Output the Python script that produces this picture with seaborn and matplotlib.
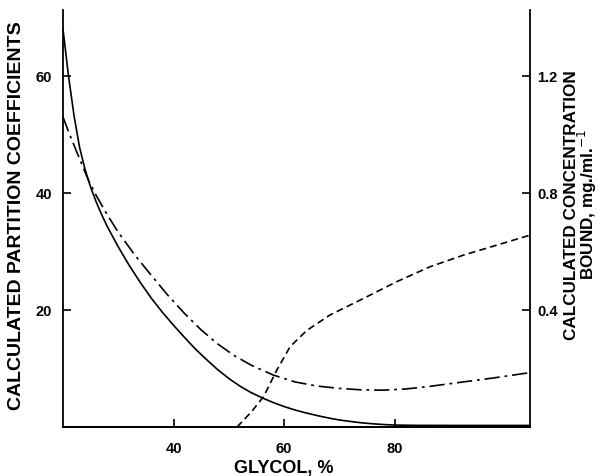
import matplotlib
matplotlib.use("Agg")
import matplotlib.pyplot as plt
import seaborn as sns
import pandas as pd

# ---- data ----
glycol_solid = [20, 21, 22, 23, 24, 25, 26, 27, 28, 30, 32, 34, 36, 38, 40, 42, 44, 46, 48, 50,
                52, 54, 56, 58, 60, 62, 64, 66, 68, 70, 72, 74, 76, 78, 80, 84, 90, 104.5]
partition_solid = [68, 60, 53.2, 47.8, 44.0, 41.0, 38.5, 36.3, 34.3, 30.8, 27.6, 24.7, 22.0, 19.6,
                   17.4, 15.3, 13.3, 11.5, 9.8, 8.3, 7.0, 5.9, 5.0, 4.2, 3.5, 2.9, 2.4, 1.95, 1.55,
                   1.2, 0.95, 0.72, 0.55, 0.42, 0.33, 0.28, 0.27, 0.27]

glycol_dashdot = [20, 21, 22.5, 24.6, 26, 28, 30, 33, 36, 39, 42, 45, 48, 51, 54, 58, 62, 66, 70,
                  74, 78, 82, 86, 90, 94, 98, 104.5]
partition_dashdot = [53, 50.5, 47, 42.2, 39.6, 36.3, 33.3, 29.4, 25.9, 22.5, 19.4, 16.6, 14.2, 12.2,
                     10.6, 8.9, 7.7, 7.0, 6.6, 6.35, 6.3, 6.5, 6.9, 7.4, 7.9, 8.4, 9.3]

glycol_bound = [51.5, 54, 56.3, 58.7, 61.1, 64.1, 68.3, 74.4, 80.4, 86.4, 92.5, 98.5, 104.5]
conc_bound = [0, 0.05, 0.104, 0.195, 0.275, 0.33, 0.383, 0.44, 0.497, 0.548, 0.588, 0.622, 0.656]

x_ticks = [40, 60, 80]
left_ticks = [20, 40, 60]
right_ticks = [0.4, 0.8, 1.2]

sns.set_style("ticks")
plt.rcParams["font.family"] = ["Liberation Sans", "DejaVu Sans"]
plt.rcParams["lines.scale_dashes"] = False
for k in ("text.color", "axes.labelcolor", "xtick.color", "ytick.color", "axes.edgecolor"):
    plt.rcParams[k] = "black"

W, H = 598, 476
fig = plt.figure(figsize=(W / 100, H / 100), dpi=100)
L, R, B, T = 63, 530, 427, 10
ax = fig.add_axes([L / W, 1 - B / H, (R - L) / W, (B - T) / H])

df1 = pd.DataFrame({"x": glycol_solid, "y": partition_solid})
df2 = pd.DataFrame({"x": glycol_dashdot, "y": partition_dashdot})
df3 = pd.DataFrame({"x": glycol_bound, "y": conc_bound})

sns.lineplot(data=df1, x="x", y="y", ax=ax, color="black", lw=1.2, estimator=None)
sns.lineplot(data=df2, x="x", y="y", ax=ax, color="black", lw=1.2, estimator=None,
             linestyle=(0, (11, 3.5, 2, 3.5)))

ax2 = ax.twinx()
sns.lineplot(data=df3, x="x", y="y", ax=ax2, color="black", lw=1.2, estimator=None,
             linestyle=(0, (5, 3)))

ax.set_xlim(20, 104.5)
ax.set_ylim(0, 71.3)
ax2.set_ylim(0, 71.3 / 50)

ax.set_xticks(x_ticks)
ax.set_yticks(left_ticks)
ax2.set_yticks(right_ticks)
ax.set_xticklabels([str(v) for v in x_ticks])
ax.set_yticklabels([str(v) for v in left_ticks])
ax2.set_yticklabels([f"{v:.1f}" for v in right_ticks])

for a in (ax, ax2):
    a.set_xlabel("")
    a.set_ylabel("")
    a.spines["top"].set_visible(False)
    a.tick_params(direction="in", length=6, width=1.2, labelsize=10.5)
    for lab in a.get_xticklabels() + a.get_yticklabels():
        lab.set_fontweight("bold")
    for s in a.spines.values():
        s.set_linewidth(1.3)
ax.tick_params(axis="x", pad=10.5)
ax.tick_params(axis="y", pad=8)
ax2.tick_params(axis="y", pad=5)
ax2.spines["left"].set_visible(False)
ax.spines["right"].set_visible(False)

fig.text(17 / W, 1 - 216 / H, "CALCULATED PARTITION COEFFICIENTS", rotation=90,
         ha="center", va="center", fontsize=14, fontweight="bold")
fig.text(284 / W, 1 - 468 / H, "GLYCOL, %", ha="center", va="center",
         fontsize=13, fontweight="bold")
fig.text(581.5 / W, 1 - 205 / H, "CALCULATED CONCENTRATION\nBOUND, mg./ml.$^{-1}$",
         rotation=90, ha="center", va="center", fontsize=12.3, fontweight="bold",
         multialignment="center", linespacing=0.82)

fig.savefig("out.png", dpi=100)
